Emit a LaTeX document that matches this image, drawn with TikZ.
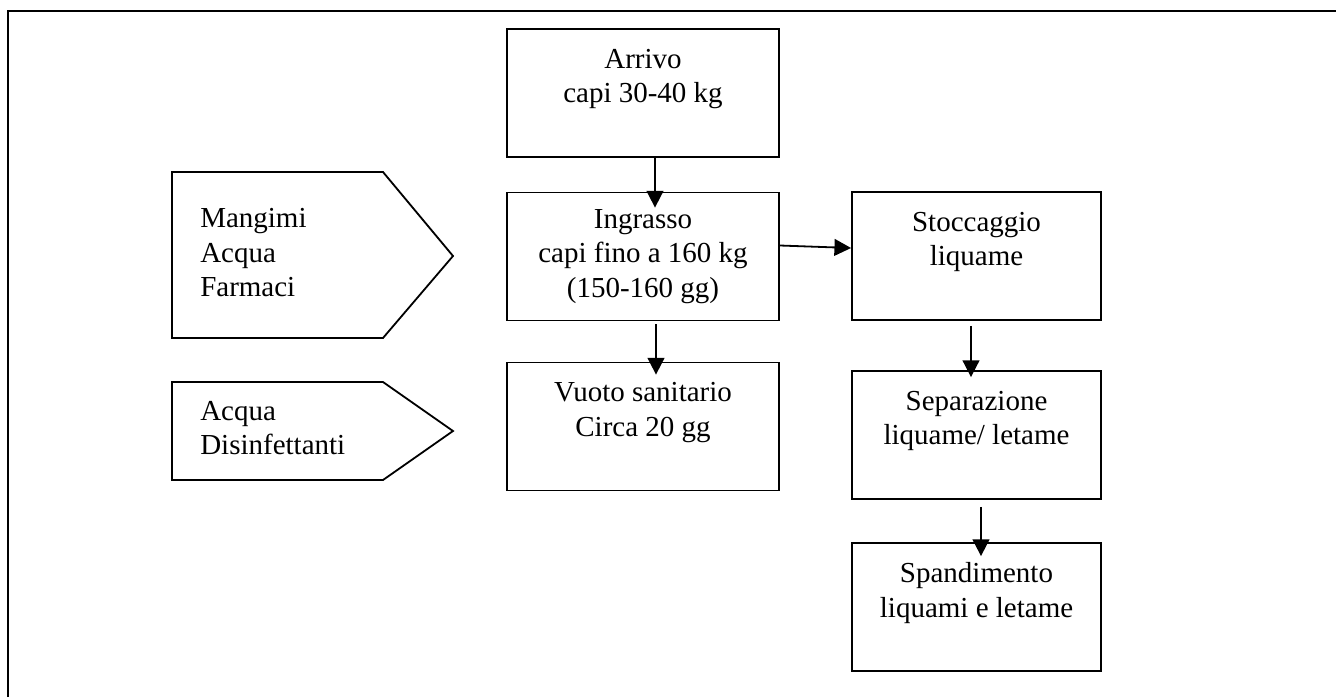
\documentclass[tikz,border=0pt]{standalone}
\usepackage{fontspec}
\setmainfont{Liberation Serif}
\usetikzlibrary{arrows.meta,calc}
\begin{document}
\begin{tikzpicture}[x=0.75pt,y=-0.75pt,
  >={Triangle[length=12.5pt,width=12.5pt]},
  txt/.style={font=\fontsize{21.75}{25.9}\selectfont},
  box/.style={txt,draw,line width=1.35pt,rectangle,inner sep=0pt,
    minimum height=96pt,align=center},
  wide/.style={box,minimum width=204pt},
  narrow/.style={box,minimum width=186.75pt},
  flow/.style={->,line width=1.35pt}]
  % page frame
  \useasboundingbox (0,0) rectangle (1336,697);
  \draw[line width=1.9pt] (8,697)--(8,11)--(1336,11);
  % inputs (arrow shapes)
  \draw[line width=1.35pt] (172,172)--(383,172)--(453,256)--(383,338)--(172,338)--cycle;
  \draw[line width=1.35pt] (172,382)--(383,382)--(453,431)--(383,480)--(172,480)--cycle;
  \node[txt,align=left,anchor=north west,inner sep=0pt] (feed) at (200,208) {Mangimi\\Acqua\\Farmaci};
  \node[txt,align=left,anchor=north west,inner sep=0pt] (wash) at (200,401) {Acqua\\Disinfettanti};
  % pig fattening
  \node[wide] (arrivo)   at (643,93)    {Arrivo\\capi 30-40 kg\\\mbox{}};
  \node[wide] (ingrasso) at (643,256.5) {Ingrasso\\capi fino a 160 kg\\(150-160 gg)};
  \node[wide] (vuoto)    at (643,426.5) {Vuoto sanitario\\Circa 20 gg\\\mbox{}};
  % slurry
  \node[narrow] (stoccaggio)  at (976.5,256) {Stoccaggio\\liquame\\\mbox{}};
  \node[narrow] (separazione) at (976.5,435) {Separazione\\liquame/ letame\\\mbox{}};
  \node[narrow] (spandimento) at (976.5,607) {Spandimento\\liquami e letame\\\mbox{}};
  % arrows
  \draw[flow] ($(arrivo.south)+(12,0)$) -- ($(ingrasso.north)+(12,16)$);
  \draw[flow] ($(ingrasso.south)+(13,3)$) -- ($(vuoto.north)+(13,13)$);
  \draw[flow] ($(ingrasso.east)+(0,-11)$) -- ($(stoccaggio.west)+(0,-8)$);
  \draw[flow] ($(stoccaggio.south)+(-5.5,5)$) -- ($(separazione.north)+(-5.5,7)$);
  \draw[flow] ($(separazione.south)+(4.5,7)$) -- ($(spandimento.north)+(4.5,14)$);
\end{tikzpicture}
\end{document}
